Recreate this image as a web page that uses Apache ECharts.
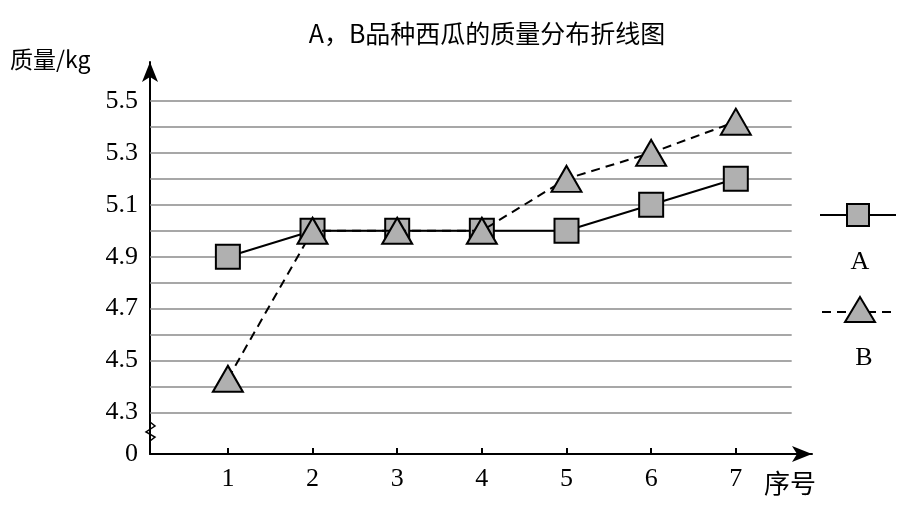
<!DOCTYPE html><html><head><meta charset="utf-8"><script src="https://cdn.jsdelivr.net/npm/echarts@6/dist/echarts.min.js"></script></head><body style="margin:0"><div id="c" style="width:913px;height:515px"></div><script>
var xs=[1,2,3,4,5,6,7];
var seriesA=[4.9,5.0,5.0,5.0,5.0,5.1,5.2];
var seriesB=[4.43,5.0,5.0,5.0,5.2,5.3,5.42];
var gridVals=[4.3,4.4,4.5,4.6,4.7,4.8,4.9,5.0,5.1,5.2,5.3,5.4,5.5];
var yLabels=[4.14,4.3,4.5,4.7,4.9,5.1,5.3,5.5];
var ff='"Liberation Serif","Noto Serif",serif';
var c=echarts.init(document.getElementById('c'));
c.setOption({animation:false,
title:{text:'A，B品种西瓜的质量分布折线图',left:482,top:16,textAlign:'center',textStyle:{fontFamily:'"Noto Sans CJK SC"',fontWeight:'normal',fontSize:25,color:'#000'}},
grid:{left:150,right:101,top:62,bottom:61},
xAxis:{type:'value',min:0.08,max:7.9,axisLine:{lineStyle:{color:'#000',width:2},symbol:['none','arrow'],symbolSize:[12,20]},splitLine:{show:false},
 axisTick:{customValues:xs,inside:true,length:6,lineStyle:{color:'#000',width:2}},
 axisLabel:{customValues:xs,fontFamily:ff,fontSize:26,color:'#000',margin:12}},
yAxis:{type:'value',min:4.14,max:5.65,axisLine:{lineStyle:{color:'#000',width:2},symbol:['none','arrow'],symbolSize:[12,20]},splitLine:{show:false},axisTick:{show:false},
 axisLabel:{customValues:yLabels,formatter:function(v){return Math.abs(v-4.14)<0.001?'0':v.toFixed(1);},fontFamily:ff,fontSize:26,color:'#000',margin:12}},
series:[
{type:'line',name:'A',data:xs.map(function(x,i){return [x,seriesA[i]];}),symbol:'rect',symbolSize:24,itemStyle:{color:'#b0b0b0',borderColor:'#000',borderWidth:2},lineStyle:{color:'#000',width:2},z:3,
 markLine:{silent:true,symbol:'none',label:{show:false},lineStyle:{color:'#8a8a8a',width:1.5,type:'solid'},data:gridVals.map(function(v){return [{coord:[0.08,v]},{coord:[7.66,v]}];}),z:1}},
{type:'line',name:'B',data:xs.map(function(x,i){return [x,seriesB[i]];}),symbol:'triangle',symbolSize:[30,26],itemStyle:{color:'#b0b0b0',borderColor:'#000',borderWidth:2},lineStyle:{color:'#000',width:2,type:[9,6]},z:4}
],
graphic:[
{type:'text',x:10,y:48,style:{text:'质量/kg',fontFamily:'"Noto Sans CJK SC"',fontSize:23,fill:'#000'}},
{type:'text',x:764,y:470,style:{text:'序号',fontFamily:'"Noto Sans CJK SC"',fontSize:26,fill:'#000'}},
{type:'polyline',shape:{points:[[150,422],[155,426],[146,432],[155,437],[150,441]]},style:{stroke:'#000',lineWidth:1.5,fill:null}},
{type:'line',shape:{x1:820,y1:215,x2:896,y2:215},style:{stroke:'#000',lineWidth:2}},
{type:'rect',shape:{x:847,y:204,width:22,height:22},style:{fill:'#b0b0b0',stroke:'#000',lineWidth:2}},
{type:'text',x:860,y:262,style:{text:'A',fontFamily:ff,fontSize:26,fill:'#000',align:'center',verticalAlign:'middle'}},
{type:'line',shape:{x1:822,y1:312,x2:896,y2:312},style:{stroke:'#000',lineWidth:2,lineDash:[9,6]}},
{type:'polygon',shape:{points:[[860,297],[875,322],[845,322]]},style:{fill:'#b0b0b0',stroke:'#000',lineWidth:2}},
{type:'text',x:864,y:358,style:{text:'B',fontFamily:ff,fontSize:26,fill:'#000',align:'center',verticalAlign:'middle'}}
]});
</script></body></html>
